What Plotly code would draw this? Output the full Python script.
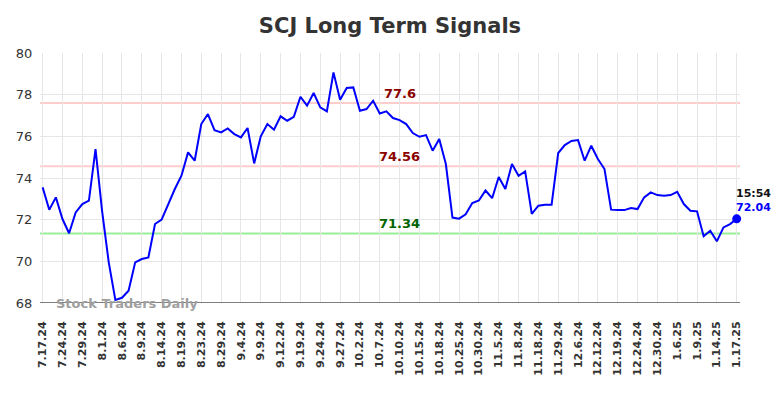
import plotly.graph_objects as go

title = "SCJ Long Term Signals"
tick_labels = ["7.17.24", "7.24.24", "7.29.24", "8.1.24", "8.6.24", "8.9.24", "8.14.24", "8.19.24",
               "8.23.24", "8.29.24", "9.4.24", "9.9.24", "9.12.24", "9.19.24", "9.24.24", "9.27.24",
               "10.2.24", "10.7.24", "10.10.24", "10.15.24", "10.18.24", "10.25.24", "10.30.24",
               "11.5.24", "11.8.24", "11.18.24", "11.29.24", "12.6.24", "12.12.24", "12.19.24",
               "12.24.24", "12.30.24", "1.6.25", "1.9.25", "1.14.25", "1.17.25"]
prices = [73.55, 72.48, 73.07, 72.03, 71.35, 72.35, 72.75, 72.91, 75.39, 72.4,
          69.95, 68.15, 68.25, 68.59, 69.95, 70.11, 70.19, 71.79, 72.0, 72.75,
          73.47, 74.11, 75.23, 74.83, 76.59, 77.07, 76.3, 76.19, 76.38, 76.11,
          75.95, 76.4, 74.7, 76.0, 76.59, 76.32, 76.96, 76.75, 76.94, 77.9,
          77.47, 78.08, 77.39, 77.2, 79.07, 77.76, 78.32, 78.35, 77.23, 77.31,
          77.71, 77.1, 77.2, 76.88, 76.78, 76.59, 76.16, 75.98, 76.06, 75.31,
          75.87, 74.67, 72.1, 72.05, 72.26, 72.8, 72.92, 73.4, 73.03, 74.05,
          73.47, 74.67, 74.11, 74.32, 72.28, 72.67, 72.72, 72.72, 75.2, 75.58,
          75.78, 75.82, 74.83, 75.55, 74.91, 74.43, 72.48, 72.46, 72.46, 72.56,
          72.51, 73.07, 73.31, 73.18, 73.15, 73.18, 73.34, 72.75, 72.43, 72.4,
          71.2, 71.47, 70.96, 71.63, 71.79, 72.04]
points_per_tick = 3
resistance_high = 77.6
resistance_low = 74.56
support = 71.34
last_time = "15:54"
watermark = "Stock Traders Daily"

x = list(range(len(prices)))
tickvals = [i * points_per_tick for i in range(len(tick_labels))]

fig = go.Figure()
fig.add_trace(go.Scatter(x=x, y=prices, mode="lines",
                         line=dict(color="#0000ff", width=2), hoverinfo="skip"))
fig.add_trace(go.Scatter(x=[x[-1]], y=[prices[-1]], mode="markers", cliponaxis=False,
                         marker=dict(color="#0000ff", size=9), hoverinfo="skip"))

for lvl, col in [(resistance_high, "#ffcccc"), (resistance_low, "#ffcccc"), (support, "#99ee99")]:
    fig.add_shape(type="line", xref="paper", x0=0, x1=1, y0=lvl, y1=lvl,
                  line=dict(color=col, width=2), layer="below")

mid = 54
fig.add_annotation(x=mid, y=resistance_high, text=f"<b>{resistance_high:g}</b>", showarrow=False,
                   yanchor="bottom", yshift=0, font=dict(color="#8b0000", size=13, family="DejaVu Sans"))
fig.add_annotation(x=mid, y=resistance_low, text=f"<b>{resistance_low:g}</b>", showarrow=False,
                   yanchor="bottom", yshift=0, font=dict(color="#8b0000", size=13, family="DejaVu Sans"))
fig.add_annotation(x=mid, y=support, text=f"<b>{support:g}</b>", showarrow=False,
                   yanchor="bottom", yshift=0, font=dict(color="#006400", size=13, family="DejaVu Sans"))
fig.add_annotation(x=x[-1], y=prices[-1],
                   text=f"<b>{last_time}</b><br><span style='color:#0000ff'><b>{prices[-1]:.2f}</b></span>",
                   showarrow=False, xanchor="left", yanchor="bottom", xshift=-3, yshift=3,
                   align="left", font=dict(color="#111111", size=11, family="DejaVu Sans"))
fig.add_annotation(xref="paper", yref="paper", x=0.02, y=0.0, text=f"<b>{watermark}</b>",
                   showarrow=False, xanchor="left", yanchor="middle",
                   font=dict(color="#a0a0a0", size=13, family="DejaVu Sans"))

fig.update_layout(
    width=784, height=398,
    margin=dict(l=32, r=52, t=45, b=103, autoexpand=False),
    paper_bgcolor="white", plot_bgcolor="white",
    showlegend=False,
    title=dict(text=f"<b>{title}</b>", xref="paper", x=0.5, xanchor="center", y=0.955,
               yanchor="middle", font=dict(size=21, color="#333333", family="DejaVu Sans")),
    font=dict(family="DejaVu Sans", color="#333333"),
)
fig.update_xaxes(range=[-0.4, len(prices) - 0.5], tickvals=tickvals,
                 ticktext=[f"<b>{t}</b>" for t in tick_labels],
                 tickangle=-90, showgrid=True, gridcolor="#e6e6e6", gridwidth=1, automargin=False,
                 tickfont=dict(size=11, color="#333333", family="DejaVu Sans"),
                 showline=False, zeroline=False, ticks="outside", ticklen=13,
                 tickcolor="rgba(0,0,0,0)")
fig.update_yaxes(range=[68, 80], dtick=2, showgrid=True, gridcolor="#e6e6e6", gridwidth=1,
                 automargin=False, tickfont=dict(size=13, color="#333333"), zeroline=False,
                 showline=False, ticks="outside", ticklen=4, tickcolor="rgba(0,0,0,0)")
fig.add_shape(type="line", xref="paper", yref="y", x0=0, x1=1, y0=68, y1=68,
              line=dict(color="#555555", width=1.5))

fig.write_html("out.html")
